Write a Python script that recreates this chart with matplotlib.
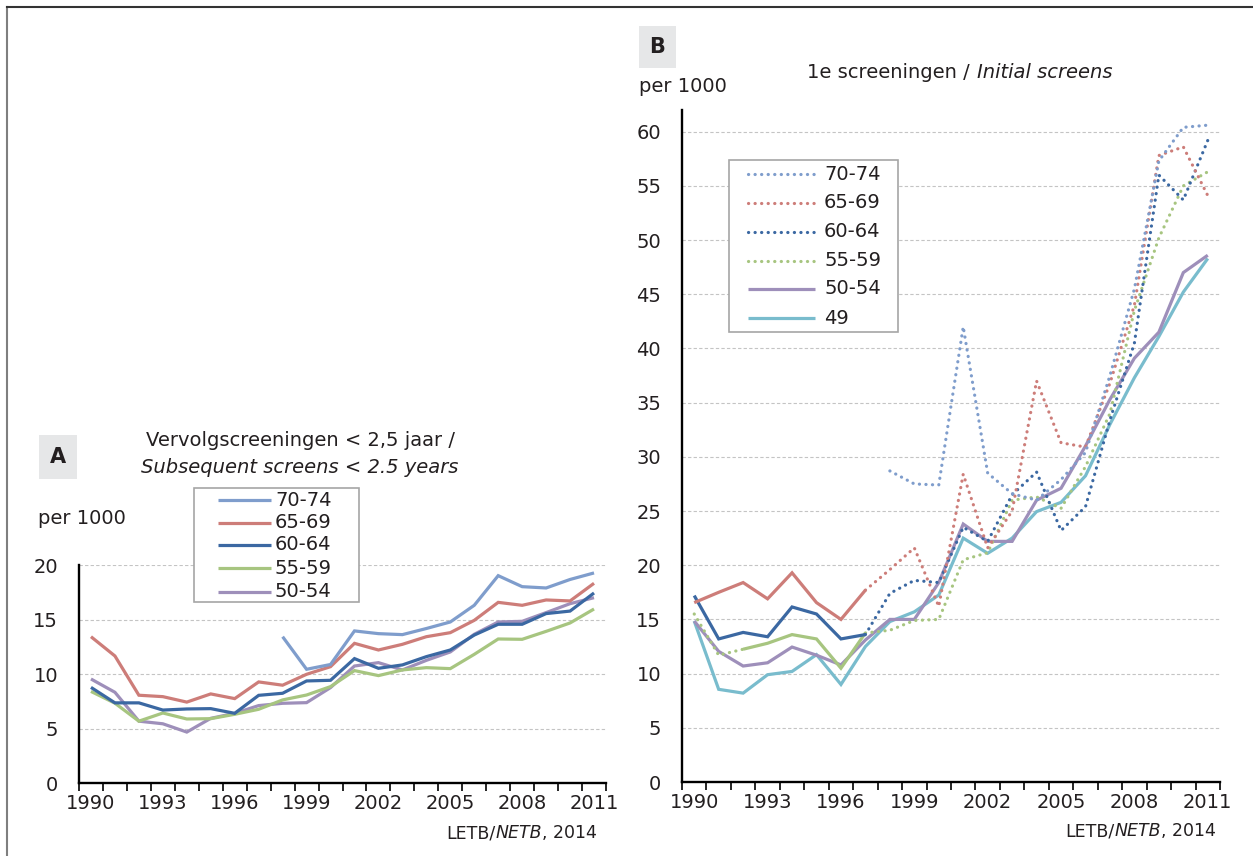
import numpy as np
import matplotlib.pyplot as plt
from matplotlib.lines import Line2D
from matplotlib.patches import Rectangle

W, H = 1253, 856
nan = np.nan

years = list(range(1990, 2012))
shown_years = ['1990', '1993', '1996', '1999', '2002', '2005', '2008', '2011']

# panel A: subsequent screens < 2.5 years, per 1000
a_70_74 = [nan, nan, nan, nan, nan, nan, nan, nan, 13.45, 10.46, 10.9, 13.98, 13.73, 13.64,
           14.2, 14.8, 16.33, 19.05, 18.04, 17.92, 18.7, 19.3]
a_65_69 = [13.45, 11.68, 8.08, 7.95, 7.45, 8.2, 7.77, 9.3, 9.0, 10.0, 10.7, 12.84, 12.23, 12.75,
           13.45, 13.82, 14.95, 16.6, 16.33, 16.82, 16.73, 18.35]
a_60_64 = [8.8, 7.38, 7.38, 6.72, 6.82, 6.85, 6.42, 8.07, 8.26, 9.39, 9.45, 11.44, 10.55, 10.86,
           11.62, 12.23, 13.6, 14.59, 14.59, 15.57, 15.8, 17.46]
a_55_59 = [8.43, 7.35, 5.7, 6.45, 5.9, 5.93, 6.33, 6.79, 7.65, 8.1, 8.87, 10.34, 9.88, 10.4,
           10.61, 10.52, 11.83, 13.24, 13.21, 13.94, 14.71, 15.99]
a_50_54 = [9.57, 8.35, 5.7, 5.46, 4.7, 5.96, 6.42, 7.13, 7.34, 7.4, 8.78, 10.76, 11.07, 10.4,
           11.28, 12.05, 13.67, 14.8, 14.86, 15.66, 16.48, 17.03]

# panel B: initial screens, per 1000 (solid and dotted parts)
b_70_74_dot = [nan, nan, nan, nan, nan, nan, nan, nan, 28.7, 27.5, 27.4, 42.0, 28.5, 26.6,
               26.0, 27.9, 30.4, 37.5, 45.5, 57.3, 60.4, 60.6]
b_65_69_solid = [16.55, 17.5, 18.4, 16.9, 19.3, 16.55, 15.0, 17.7, nan, nan, nan, nan, nan, nan,
                 nan, nan, nan, nan, nan, nan, nan, nan]
b_65_69_dot = [nan, nan, nan, nan, nan, nan, nan, 17.7, 19.6, 21.6, 16.2, 28.4, 21.6, 25.0,
               37.0, 31.3, 30.9, 36.8, 44.0, 57.8, 58.6, 54.1]
b_60_64_solid = [17.2, 13.2, 13.8, 13.4, 16.15, 15.5, 13.2, 13.6, nan, nan, nan, nan, nan, nan,
                 nan, nan, nan, nan, nan, nan, nan, nan]
b_60_64_dot = [nan, nan, nan, nan, nan, nan, nan, 13.6, 17.4, 18.6, 18.4, 23.5, 22.2, 26.5,
               28.6, 23.2, 25.4, 33.4, 40.5, 56.0, 53.7, 59.2]
b_55_59_solid = [nan, nan, 12.25, 12.8, 13.6, 13.2, 10.5, 13.75, nan, nan, nan, nan, nan, nan,
                 nan, nan, nan, nan, nan, nan, nan, nan]
b_55_59_dot = [15.5, 11.7, 12.25, nan, nan, nan, nan, 13.75, 14.0, 14.9, 15.0, 20.5, 21.15, 26.0,
               26.3, 25.25, 29.1, 34.0, 43.5, 50.2, 55.0, 56.3]
b_50_54 = [14.85, 12.05, 10.7, 11.0, 12.45, 11.7, 10.8, 13.1, 15.0, 15.0, 18.4, 23.8, 22.2, 22.2,
           26.0, 27.1, 31.0, 35.3, 39.1, 41.5, 47.0, 48.6]
b_49 = [14.85, 8.55, 8.2, 9.9, 10.2, 11.75, 9.0, 12.5, 14.8, 15.7, 17.25, 22.5, 21.1, 22.5,
        24.95, 25.8, 28.25, 33.0, 37.3, 41.1, 45.2, 48.3]

labels_a = ['70-74', '65-69', '60-64', '55-59', '50-54']
labels_b = ['70-74', '65-69', '60-64', '55-59', '50-54', '49']

c7074 = '#7f9dcc'
c6569 = '#cd7d79'
c6064 = '#3b68a2'
c5559 = '#a7c580'
c5054 = '#9e8fba'
c49 = '#79bccd'

LW = 2.3
solid = dict(lw=LW, solid_capstyle='butt', solid_joinstyle='miter')
dotted = dict(lw=LW, linestyle=(0, (0.05, 2.0)), dash_capstyle='round')

plt.rcParams['font.family'] = ['DejaVu Sans']
txt = '#231f20'
FS = 14

fig = plt.figure(figsize=(W / 100, H / 100), dpi=100)


def fx(x):
    return x / W


def fy(y):
    return 1 - y / H


def style_axes(ax, ymax, ystep):
    ax.set_xlim(-0.5, 21.5)
    ax.set_ylim(0, ymax)
    for s in ['top', 'right']:
        ax.spines[s].set_visible(False)
    for s in ['left', 'bottom']:
        ax.spines[s].set_linewidth(1.7)
        ax.spines[s].set_color('black')
    ax.set_xticks(range(0, 22, 3))
    ax.set_xticklabels(shown_years)
    ax.set_xticks(np.arange(-0.5, 22, 1), minor=True)
    ax.tick_params(axis='x', which='major', length=0, pad=8, labelsize=FS, labelcolor=txt)
    ax.tick_params(axis='x', which='minor', length=6, width=1.2, direction='out')
    ax.set_yticks(np.arange(0, ymax + 0.1, ystep))
    ax.tick_params(axis='y', length=0, pad=15, labelsize=FS, labelcolor=txt)
    ax.yaxis.grid(True, color='#c4c4c4', linestyle=(0, (3, 2)), lw=0.8)
    ax.set_axisbelow(True)
    ax.patch.set_alpha(0)


x = np.arange(len(years))

# ---- panel A
axA = fig.add_axes([fx(79), fy(783.3), (606 - 79) / W, (783.3 - 565.3) / H])
style_axes(axA, 20, 5)
a_series = [a_70_74, a_65_69, a_60_64, a_55_59, a_50_54]
a_colors = [c7074, c6569, c6064, c5559, c5054]
for vals, col in zip(a_series[::-1], a_colors[::-1]):
    axA.plot(x, np.array(vals, dtype=float), color=col, **solid)

# ---- panel B
axB = fig.add_axes([fx(682), fy(782), (1220 - 682) / W, (782 - 110) / H])
style_axes(axB, 62, 5)
axB.set_yticks(np.arange(0, 61, 5))
axB.plot(x, np.array(b_49, dtype=float), color=c49, **solid)
axB.plot(x, np.array(b_50_54, dtype=float), color=c5054, **solid)
axB.plot(x, np.array(b_55_59_dot, dtype=float), color=c5559, **dotted)
axB.plot(x, np.array(b_55_59_solid, dtype=float), color=c5559, **solid)
axB.plot(x, np.array(b_60_64_dot, dtype=float), color=c6064, **dotted)
axB.plot(x, np.array(b_60_64_solid, dtype=float), color=c6064, **solid)
axB.plot(x, np.array(b_65_69_dot, dtype=float), color=c6569, **dotted)
axB.plot(x, np.array(b_65_69_solid, dtype=float), color=c6569, **solid)
axB.plot(x, np.array(b_70_74_dot, dtype=float), color=c7074, **dotted)


# ---- legends (drawn like the Excel boxes)
def box_legend(x0, y0, x1, y1, rows_y, line_x, text_x, entries):
    fig.add_artist(Rectangle((fx(x0), fy(y1)), (x1 - x0) / W, (y1 - y0) / H,
                             transform=fig.transFigure, facecolor='white',
                             edgecolor='#a6a6a6', lw=1.2))
    for yy, (lab, col, sty) in zip(rows_y, entries):
        fig.add_artist(Line2D([fx(line_x[0]), fx(line_x[1])], [fy(yy), fy(yy)],
                              color=col, transform=fig.transFigure, **sty))
        fig.text(fx(text_x), fy(yy), lab, ha='left', va='center', fontsize=FS, color=txt)


box_legend(194, 488, 359, 602, [500, 522.5, 545, 568, 591.5], (218, 271), 275,
           list(zip(labels_a, a_colors, [solid] * 5)))
box_legend(729, 160, 898, 332, [174, 203, 232, 261, 289, 318], (748, 815), 824,
           list(zip(labels_b, [c7074, c6569, c6064, c5559, c5054, c49],
                    [dotted] * 4 + [solid] * 2)))

# ---- panel letters
for (x0, y0, x1, y1), letter in [((39, 435, 77, 479), 'A'), ((639, 26, 676, 68), 'B')]:
    fig.add_artist(Rectangle((fx(x0), fy(y1)), (x1 - x0) / W, (y1 - y0) / H,
                             transform=fig.transFigure, facecolor='#e6e7e8', edgecolor='none'))
    fig.text(fx((x0 + x1) / 2), fy((y0 + y1) / 2), letter, ha='center', va='center',
             fontsize=15, fontweight='bold', color=txt)

# ---- titles and units
fig.text(fx(300), fy(441), 'Vervolgscreeningen < 2,5 jaar /', ha='center', va='center',
         fontsize=FS, color=txt)
fig.text(fx(300), fy(467), 'Subsequent screens < 2.5 years', ha='center', va='center',
         fontsize=FS, color=txt, fontstyle='italic')
fig.text(fx(38), fy(519), 'per 1000', ha='left', va='center', fontsize=FS, color=txt)
fig.text(fx(639), fy(86), 'per 1000', ha='left', va='center', fontsize=FS, color=txt)
fig.text(fx(970), fy(72), '1e screeningen /', ha='right', va='center', fontsize=FS, color=txt)
fig.text(fx(977), fy(72), 'Initial screens', ha='left', va='center', fontsize=FS, color=txt,
         fontstyle='italic')


def parts_text(xr, y, parts, size):
    # lay pieces out left to right, then shift so the line ends at xr
    r = fig.canvas.get_renderer()
    objs, cur = [], 0.0
    for s, st in parts:
        t = fig.text(fx(xr) + cur / W, fy(y), s, ha='left', va='center', fontsize=size,
                     color=txt, fontstyle=st)
        cur += t.get_window_extent(r).width
        objs.append(t)
    for t in objs:
        px, py = t.get_position()
        t.set_x(px - cur / W)


src = [('LETB/', 'normal'), ('NETB', 'italic'), (', 2014', 'normal')]
parts_text(597, 833, src, 12.5)
parts_text(1216, 831, src, 12.5)

# ---- page frame
fig.add_artist(Line2D([fx(7), fx(7)], [0, fy(7)], color='#7f7f7f', lw=1.5,
                      transform=fig.transFigure))
fig.add_artist(Line2D([fx(7), 1], [fy(7), fy(7)], color='#333333', lw=1.5,
                      transform=fig.transFigure))

fig.savefig('out.png', dpi=100)
